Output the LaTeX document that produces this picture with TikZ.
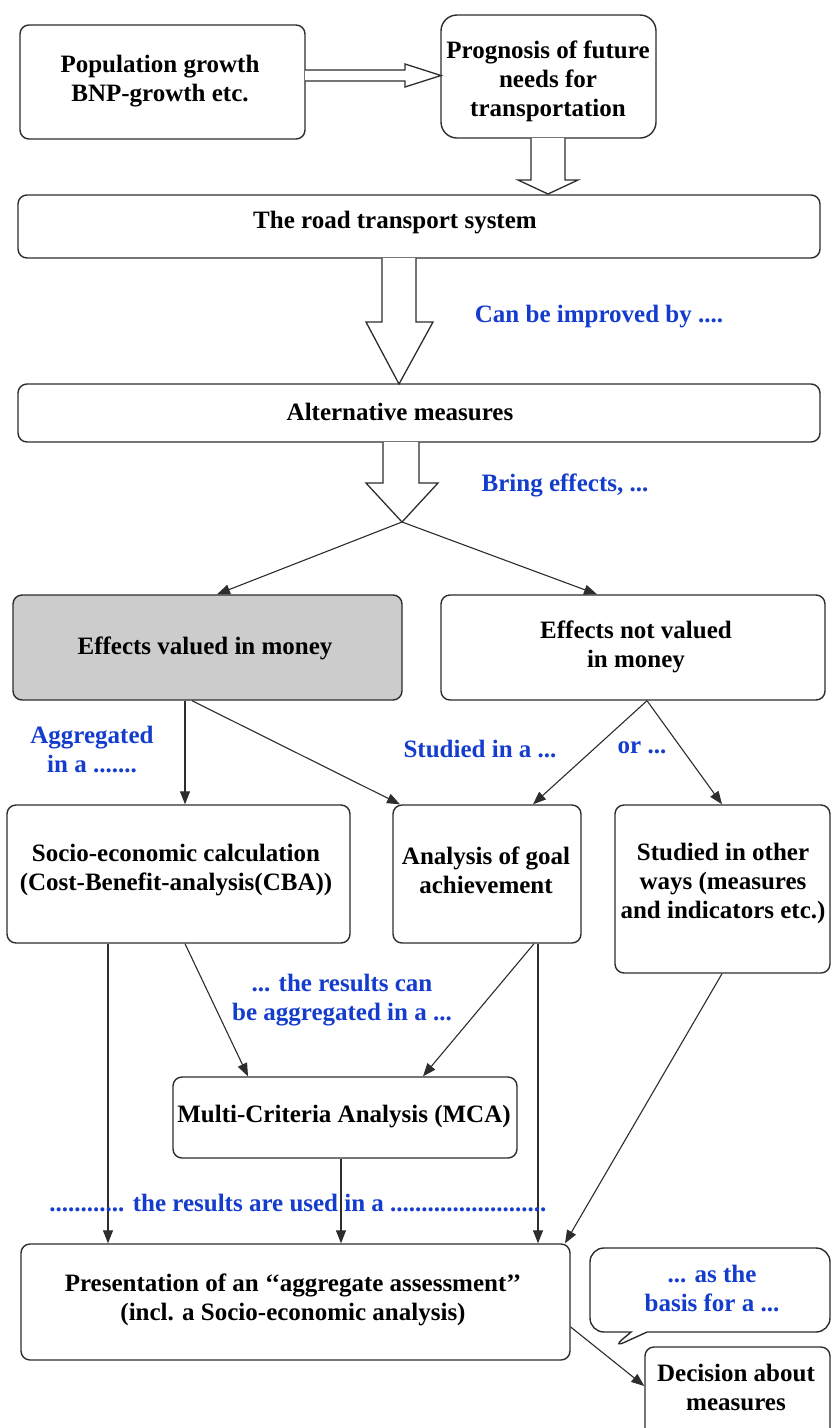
\documentclass[tikz,border=0pt]{standalone}
\usepackage{fontspec}
\setmainfont{Liberation Serif}
\usetikzlibrary{arrows.meta,shapes.callouts}
\definecolor{lblue}{RGB}{20,60,205}
\definecolor{boxgray}{RGB}{204,204,204}
\definecolor{edgec}{RGB}{45,45,45}
\tikzset{
  box/.style={draw=edgec, line width=1.4pt, rounded corners=9pt, fill=white, inner sep=0pt},
  txt/.style={align=center, inner sep=0pt, font=\rmfamily\bfseries\fontsize{25}{29}\selectfont},
  lbl/.style={txt, text=lblue},
  conn/.style={draw=edgec, line width=1.1pt, -{Triangle[length=13pt,width=10pt]}},
  hollow/.style={draw=edgec, line width=1.3pt, fill=white, line join=miter},
}
% \bx[style]{name}{x1}{y1}{x2}{y2}{}{}  -- box node; text node added separately
\newcommand\bx[7][]{%
  \node[box,#1,minimum width={#5-#3},minimum height={#6-#4}] (#2) at ({(#3+#5)/2},{(#4+#6)/2}) {};}
\begin{document}
\begin{tikzpicture}[x=1pt,y=-1pt]
\clip (0,0) rectangle (831,1428);
\fill[white] (0,0) rectangle (831,1428);

% boxes
\bx{pop}{20}{25}{305}{139}{}{}
\bx[rounded corners=16pt]{prog}{441}{15}{656}{138}{}{}
\bx{road}{18}{195}{820}{258}{}{}
\bx{alt}{18}{384}{820}{442}{}{}
\bx[fill=boxgray]{ev}{13}{595}{402}{700}{}{}
\bx{env}{441}{595}{825}{700}{}{}
\bx{soc}{7}{805}{350}{943}{}{}
\bx{ana}{393}{805}{581}{943}{}{}
\bx{stu}{615}{805}{830}{973}{}{}
\bx{mca}{173}{1077}{517}{1158}{}{}
\bx{pres}{21}{1244}{570}{1360}{}{}
\bx{dec}{645}{1347}{830}{1445}{}{}
\node[rectangle callout, draw=edgec, line width=1.4pt, fill=white, rounded corners=14pt,
      minimum width=240, minimum height=84, inner sep=0pt,
      callout absolute pointer={(612,1348)}, callout pointer width=16pt] (bub) at (710,1290) {};

% box texts
\node[txt] (pop-t) at (160,81) {Population growth\\BNP-growth etc.};
\node[txt] (prog-t) at (548,81) {Prognosis of future\\needs for\\transportation};
\node[txt] (road-t) at (395,223) {The road transport system};
\node[txt] (alt-t) at (400,412) {Alternative measures};
\node[txt] (ev-t) at (205,648) {Effects valued in money};
\node[txt] (env-t) at (636,647) {Effects not valued\\in money};
\node[txt] (soc-t) at (176,870) {Socio-economic calculation\\(Cost-Benefit-analysis(CBA))};
\node[txt] (ana-t) at (486,870) {Analysis of goal\\achievement};
\node[txt] (stu-t) at (723,883) {Studied in other\\ways (measures\\and indicators etc.)};
\node[txt] (mca-t) at (344,1117) {Multi-Criteria Analysis (MCA)};
\node[txt] (pres-t) at (293,1300) {Presentation of an {‘}{‘}aggregate assessment{’}{’}\\(incl. a Socio-economic analysis)};
\node[lbl] (bub-t) at (712,1288) {... as the\\basis for a ...};
\node[txt] (dec-t) at (736,1387) {Decision about\\measures};

% hollow block arrows
\draw[hollow] (305,70) -- (405,70) -- (405,64) -- (441,75.5) -- (405,87) -- (405,81) -- (305,81);
\draw[hollow] (531,138) -- (531,180) -- (518,180) -- (548,194) -- (578,180) -- (565,180) -- (565,138);
\draw[hollow] (382,258) -- (382,322) -- (366,322) -- (399,384) -- (433,322) -- (416,322) -- (416,258);
\draw[hollow] (383,442) -- (383,483) -- (366,483) -- (402,522) -- (438,483) -- (419,483) -- (419,442);
\coordinate (split) at (402,522);

% connectors
\draw[conn] (split) -- (217,0 |- ev.north);
\draw[conn] (split) -- (597,0 |- env.north);
\draw[conn] (185,0 |- ev.south) -- (185,0 |- soc.north);
\draw[conn] (192,0 |- ev.south) -- (400,0 |- ana.north);
\draw[conn] (647,0 |- env.south) -- (533,0 |- ana.north);
\draw[conn] (647,0 |- env.south) -- (722,0 |- stu.north);
\draw[conn] (185,0 |- soc.south) -- (248,0 |- mca.north);
\draw[conn] (534,0 |- ana.south) -- (423,0 |- mca.north);
\draw[conn] (108,0 |- soc.south) -- (108,0 |- pres.north);
\draw[conn] (538,0 |- ana.south) -- (538,0 |- pres.north);
\draw[conn] (341,0 |- mca.south) -- (341,0 |- pres.north);
\draw[conn] (722,0 |- stu.south) -- (565,0 |- pres.north);
\draw[conn] (pres.east |- 0,1327) -- (dec.west |- 0,1386);

% blue labels
\node[lbl] (l1) at (599,317) {Can be improved by ....};
\node[lbl] (l2) at (565,485) {Bring effects, ...};
\node[lbl] (l3) at (92,749) {Aggregated\\in a .......};
\node[lbl] (l4) at (480,749) {Studied in a ...};
\node[lbl] (l5) at (642,748) {or ...};
\node[lbl] (l6) at (342,1000) {... the results can\\be aggregated in a ...};
\node[lbl] (l7) at (298,1203) {............ the results are used in a .........................};
\end{tikzpicture}
\end{document}
